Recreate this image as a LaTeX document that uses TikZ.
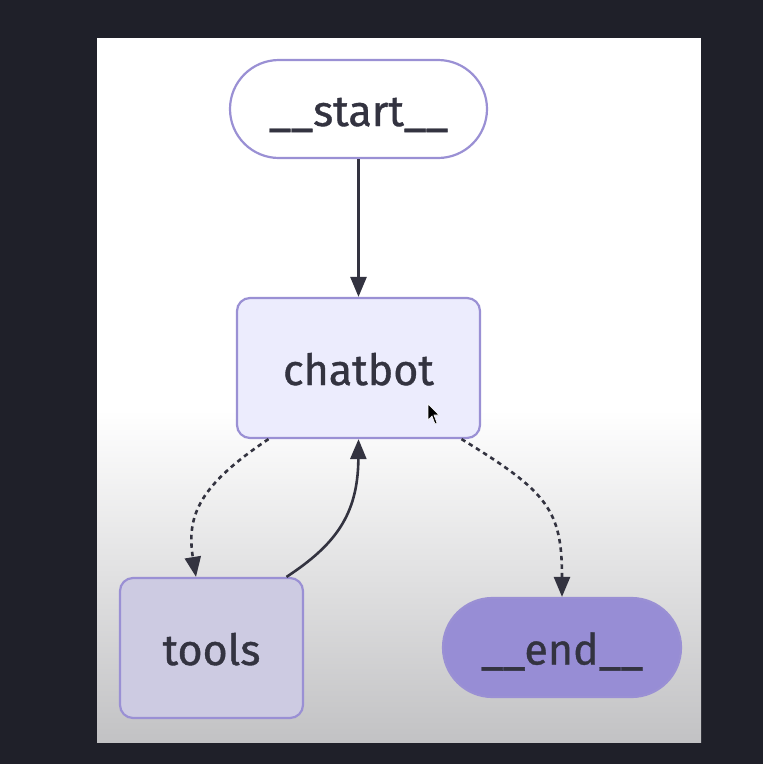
\documentclass[tikz,border=0pt]{standalone}
\usepackage{fontspec}
\setmainfont{Fira Sans}[FakeBold=0.9]
\usetikzlibrary{arrows.meta,shapes.misc}
\definecolor{bgdark}{HTML}{1F2029}
\definecolor{edgepurple}{HTML}{9A90D4}
\definecolor{txt}{HTML}{333340}
\definecolor{chatfill}{HTML}{ECECFD}
\definecolor{toolfill}{HTML}{CDCBE2}
\definecolor{endfill}{HTML}{978DD5}
\definecolor{botgray}{HTML}{C2C2C4}
\tikzset{
  box/.style={draw=edgepurple, line width=2.2pt, text=txt, font=\fontsize{43}{50}\selectfont, inner sep=0pt, text height=38pt, text depth=4pt},
  pill/.style={box, rounded rectangle},
  rbox/.style={box, rounded corners=13pt},
  link/.style={draw=txt, line width=2.6pt, -{Triangle[length=20pt,width=16pt]}},
  dlink/.style={link, dash pattern=on 4.5pt off 4pt},
}
\begin{document}
\begin{tikzpicture}[x=1pt,y=-1pt]
\useasboundingbox (0,0) rectangle (763,764);
\fill[bgdark] (0,0) rectangle (763,764);
\fill[white] (97,38) rectangle (701,742);
\shade[top color=white, bottom color=botgray] (97,410) rectangle (701,742);
\node[pill, fill=white, minimum width=257pt, minimum height=98pt] (start) at (358.5,109) {\_\_start\_\_};
\node[rbox, fill=chatfill, minimum width=243pt, minimum height=140pt] (chatbot) at (358.5,368) {chatbot};
\node[rbox, fill=toolfill, minimum width=183pt, minimum height=140pt] (tools) at (211.5,648) {tools};
\node[pill, fill=endfill, minimum width=238pt, minimum height=99pt] (end) at (562,647.5) {\_\_end\_\_};
\draw[link] (start.south) -- (chatbot.north);
\draw[dlink] ([xshift=-90pt]chatbot.south) .. controls (200,485) and (186,515) .. ([xshift=-15.5pt]tools.north);
\draw[link] ([xshift=75pt]tools.north) .. controls (335,545) and (358,515) .. (chatbot.south);
\draw[dlink] ([xshift=103pt]chatbot.south) .. controls (548,492) and (562,510) .. (end.north);
% mouse cursor
\draw[fill=black, draw=white, line width=0.6pt] (428,404) -- (428,420) -- (432,416) -- (435,424) -- (437,423) -- (434,415) -- (439,415) -- cycle;
\end{tikzpicture}
\end{document}
